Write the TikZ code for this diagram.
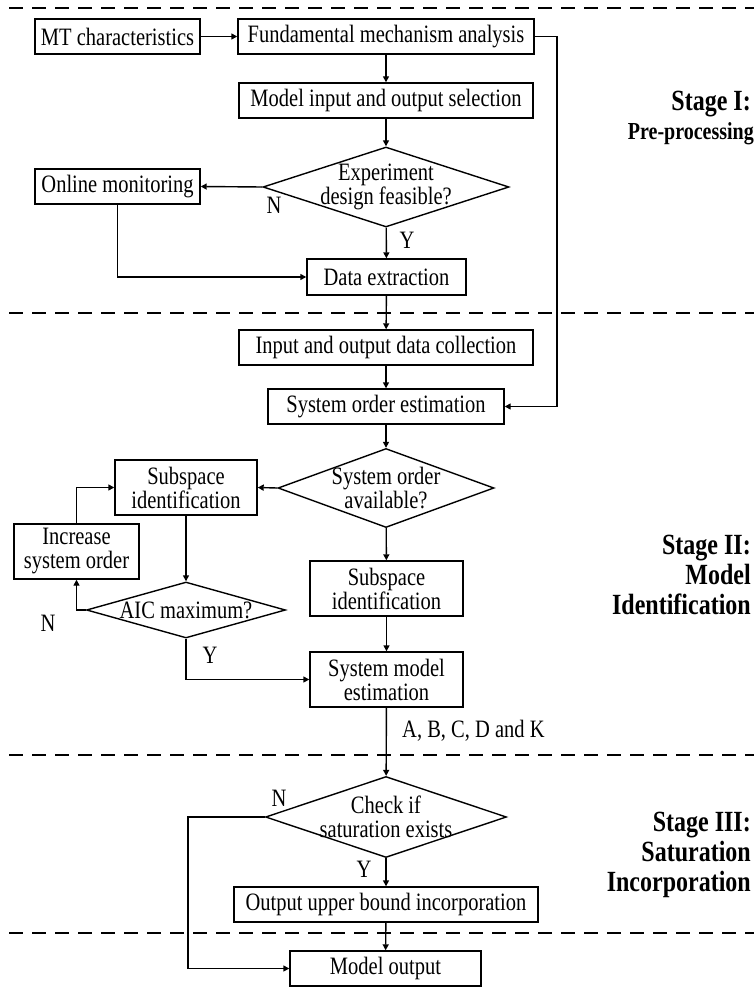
\documentclass[tikz,border=0pt]{standalone}
\usepackage{graphicx}
\usepackage{fontspec}
\setmainfont{Liberation Serif}
\usetikzlibrary{arrows.meta,shapes.geometric}
\newcommand{\tx}[1]{\scalebox{1}[1.22]{#1}}

\begin{document}
\begin{tikzpicture}[x=1pt,y=-1pt,
    every node/.style={font=\fontsize{20.5}{24}\selectfont},
    procbox/.style={draw,line width=1.4pt,inner sep=0pt,minimum height=35pt,align=center},
    decision/.style={draw,diamond,line width=1.4pt,inner sep=0pt},
    flow/.style={line width=1.4pt,-{Triangle[length=6pt,width=6pt]}},
    sep/.style={line width=1.4pt,dash pattern=on 14pt off 9pt},
    stagetitle/.style={font=\bfseries\fontsize{24}{30}\selectfont,align=right,anchor=east,inner sep=0pt},
    yn/.style={inner sep=0pt}]
 \useasboundingbox (0,0) rectangle (754,987);
 % stage borders
 \draw[sep] (9,8) -- (754,8);
 \draw[sep] (9,313) -- (754,313);
 \draw[sep] (9,755) -- (754,755);
 \draw[sep] (9,933) -- (754,933);

 % Stage I
 \node[procbox,minimum width=165pt] (mt) at (117.5,36.5) {\tx{MT characteristics}};
 \node[procbox,minimum width=296pt] (fma) at (386,36.5) {\tx{Fundamental mechanism analysis}};
 \node[procbox,minimum width=294pt] (mios) at (386,100.5) {\tx{Model input and output selection}};
 \node[decision,minimum width=246pt,minimum height=80pt,
       label={[align=center]center:\tx{Experiment}\\\tx{design feasible?}}] (exp) at (386,187) {};
 \node[procbox,minimum width=165pt] (online) at (117.5,186.5) {\tx{Online monitoring}};
 \node[procbox,minimum width=159pt,minimum height=36pt] (dext) at (386.5,277) {\tx{Data extraction}};

 % Stage II
 \node[procbox,minimum width=294pt] (iodc) at (386,347.5) {\tx{Input and output data collection}};
 \node[procbox,minimum width=236pt] (soe) at (386,406.5) {\tx{System order estimation}};
 \node[decision,minimum width=216pt,minimum height=79pt,
       label={[align=center]center:\tx{System order}\\\tx{available?}}] (soa) at (386,488) {};
 \node[procbox,minimum width=142pt,minimum height=55pt] (subl) at (186,487.5) {\tx{Subspace}\\\tx{identification}};
 \node[procbox,minimum width=125pt,minimum height=55pt] (incr) at (76.5,551.5) {\tx{Increase}\\\tx{system order}};
 \node[decision,minimum width=199pt,minimum height=56pt,
       label={center:\tx{AIC maximum?}}] (aic) at (186,610) {};
 \node[procbox,minimum width=153pt,minimum height=55pt] (subc) at (386.5,588.5) {\tx{Subspace}\\\tx{identification}};
 \node[procbox,minimum width=153pt,minimum height=55pt] (sme) at (386.5,679.5) {\tx{System model}\\\tx{estimation}};

 % Stage III
 \node[decision,minimum width=241pt,minimum height=81pt,
       label={[align=center]center:\tx{Check if}\\\tx{saturation exists}}] (chk) at (386,817) {};
 \node[procbox,minimum width=304pt] (oubi) at (386,904.5) {\tx{Output upper bound incorporation}};
 \node[procbox,minimum width=191pt] (mout) at (385.5,968.5) {\tx{Model output}};

 % stage titles
 \node[stagetitle] (st1) at (751,104) {\tx{Stage I:}};
 \node[stagetitle,font=\bfseries\fontsize{20}{24}\selectfont] (st1b) at (754,134) {\tx{Pre-processing}};
 \node[stagetitle] (st2) at (751,575) {\tx{Stage II:}\\\tx{Model}\\\tx{Identification}};
 \node[stagetitle] (st3) at (751,855) {\tx{Stage III:}\\\tx{Saturation}\\\tx{Incorporation}};

 % connectors
 \draw[flow] (mt) -- (fma);
 \draw[flow] (fma.east) -- (557,36.5) -- (557,406.5) -- (soe.east);
 \draw[flow] (fma) -- (mios);
 \draw[flow] (mios) -- (exp);
 \draw[flow] (exp.west) -- (online.east);
 \draw[flow] (exp) -- (dext);
 \draw[flow] (online.south) -- (117.5,277) -- (dext.west);
 \draw[flow] (dext) -- (iodc);
 \draw[flow] (iodc) -- (soe);
 \draw[flow] (soe) -- (soa);
 \draw[flow] (soa.west) -- (subl.east);
 \draw[flow] (soa) -- (subc);
 \draw[flow] (subl) -- (aic);
 \draw[flow] (aic.west) -- (76.5,610) -- (incr.south);
 \draw[flow] (incr.north) -- (76.5,487.5) -- (subl.west);
 \draw[flow] (aic.south) -- (186,679.5) -- (sme.west);
 \draw[flow] (subc) -- (sme);
 \draw[flow] (sme) -- (chk);
 \draw[flow] (chk.west) -- (188,817) -- (188,968.5) -- (mout.west);
 \draw[flow] (chk) -- (oubi);
 \draw[flow] (oubi) -- (mout);

 % branch labels
 \node[yn] (n1) at (274,205) {\tx{N}};
 \node[yn] (y1) at (407,240) {\tx{Y}};
 \node[yn] (n2) at (48,623) {\tx{N}};
 \node[yn] (y2) at (210,655) {\tx{Y}};
 \node[yn,anchor=west] (abcd) at (402,731) {\tx{A, B, C, D and K}};
 \node[yn] (n3) at (279,798) {\tx{N}};
 \node[yn] (y3) at (364,869) {\tx{Y}};
\end{tikzpicture}
\end{document}
